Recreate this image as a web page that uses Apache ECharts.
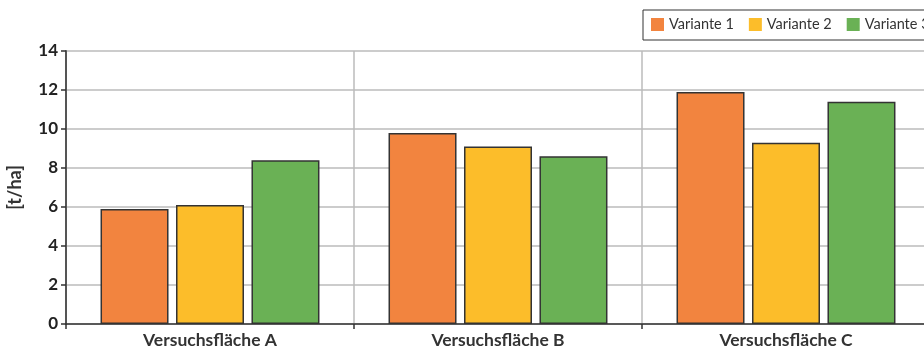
<!DOCTYPE html>
<html>
<head>
<meta charset="utf-8">
<script src="https://cdn.jsdelivr.net/npm/echarts@6/dist/echarts.min.js"></script>
<style>
  html, body { margin: 0; padding: 0; background: #fff; }
  #chart { width: 924px; height: 354px; }
</style>
</head>
<body>
<div id="chart"></div>
<script>
// Yield per test plot and variant, in tonnes per hectare
const categories = ['Versuchsfläche A', 'Versuchsfläche B', 'Versuchsfläche C'];
const variante1 = [5.9, 9.8, 11.9];
const variante2 = [6.1, 9.1, 9.3];
const variante3 = [8.4, 8.6, 11.4];
const seriesNames = ['Variante 1', 'Variante 2', 'Variante 3'];
const seriesColors = ['#F2843F', '#FCBD2A', '#6AB155'];
const yTicks = [0, 2, 4, 6, 8, 10, 12, 14];

const fontFamily = 'Lato, "Open Sans", sans-serif';
const chart = echarts.init(document.getElementById('chart'));

const valuesBySeries = [variante1, variante2, variante3];

chart.setOption({
  animation: false,
  textStyle: { fontFamily },
  grid: { left: 66, top: 51, width: 864, height: 273, outerBoundsMode: 'none', containLabel: false },
  legend: {
    left: 643,
    top: 10,
    width: 500,
    orient: 'horizontal',
    itemWidth: 13,
    itemHeight: 13,
    itemGap: 15,
    padding: [7, 8, 8, 8],
    borderColor: '#333',
    borderWidth: 1,
    icon: 'rect',
    itemStyle: { borderWidth: 0 },
    textStyle: { fontSize: 14.5, color: '#333', fontFamily },
    data: seriesNames
  },
  xAxis: {
    type: 'category',
    data: categories,
    axisLine: { lineStyle: { color: '#333', width: 1.5 } },
    axisTick: { show: true, length: 5, lineStyle: { color: '#333', width: 1.5 } },
    axisLabel: { fontSize: 17.5, fontWeight: 'bold', color: '#333', margin: 7, fontFamily },
    splitLine: { show: true, lineStyle: { color: '#bbb', width: 1.5 } }
  },
  yAxis: {
    type: 'value',
    min: yTicks[0],
    max: yTicks[yTicks.length - 1],
    interval: 2,
    name: '[t/ha]',
    nameLocation: 'middle',
    nameGap: 42,
    nameRotate: 90,
    nameTextStyle: { fontSize: 18, fontWeight: 'bold', color: '#333', fontFamily },
    axisLine: { show: true, lineStyle: { color: '#555', width: 2 } },
    axisTick: { show: true, length: 5, lineStyle: { color: '#333', width: 1.5 } },
    axisLabel: { fontSize: 17, fontWeight: 'bold', color: '#222', margin: 8, fontFamily },
    splitLine: { show: true, lineStyle: { color: '#bbb', width: 1.5 } }
  },
  series: seriesNames.map((name, i) => ({
    name,
    type: 'bar',
    data: valuesBySeries[i],
    barWidth: 68,
    barGap: '11%',
    itemStyle: { color: seriesColors[i], borderColor: '#333', borderWidth: 1.5 }
  }))
});
</script>
</body>
</html>
